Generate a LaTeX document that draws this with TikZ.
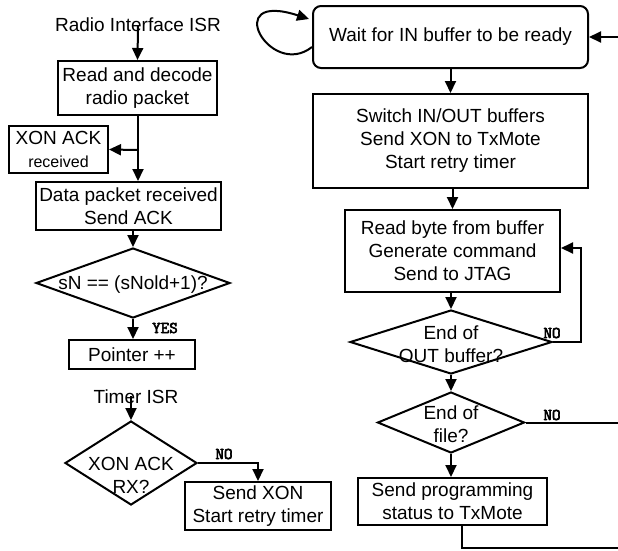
\documentclass[tikz,border=0pt]{standalone}
\usepackage{fontspec}
\setmainfont{Liberation Sans}
\newfontfamily\codefont{Latin Modern Mono}[AutoFakeBold=3.5]
\usetikzlibrary{arrows.meta,shapes.geometric}

\tikzset{
  box/.style={draw,line width=2pt,align=center,inner sep=0pt},
  rbox/.style={box,rounded corners=8pt},
  dec/.style={draw,diamond,line width=2pt,inner sep=0pt},
  txt/.style={align=center,inner sep=0pt},
  lbl/.style={font=\codefont\bfseries\fontsize{16.5}{16.5}\selectfont,inner sep=0pt},
  arr/.style={line width=2pt,-{Triangle[length=12pt,width=11pt]}},
  wire/.style={line width=2pt}
}

\begin{document}
\begin{tikzpicture}[x=1pt,y=-1pt,font=\fontsize{19}{23}\selectfont]
\useasboundingbox (0,0) rectangle (618,550);

\node[txt] (rad) at (138,25) {Radio Interface ISR};
\node[box,minimum width=159,minimum height=54] (rdp) at (137.5,88) {Read and decode\\radio packet};
\node[box,minimum width=99,minimum height=47] (ackbox) at (58.5,149.5) {XON ACK\\{\fontsize{16}{20}\selectfont received}};
\node[box,minimum width=185,minimum height=48] (dpr) at (128.5,206) {Data packet received\\Send ACK};
\node[dec,minimum width=194,minimum height=70] (seq) at (133,283) {};
\node[txt] (seqt) at (133,285) {sN == (sNold+1)?};
\node[box,minimum width=126,minimum height=29] (ptr) at (132,354.5) {Pointer ++};
\node[lbl] (yes) at (165,328) {YES};

\node[txt] (tmr) at (136,397) {Timer ISR};
\node[dec,minimum width=132,minimum height=84] (xack) at (131,463) {};
\node[txt] (xackt) at (131,475) {XON ACK\\RX?};
\node[box,minimum width=146,minimum height=48] (sxon) at (258,506) {Send XON\\Start retry timer};
\node[lbl] (no1) at (224,454) {NO};

\node[rbox,minimum width=275,minimum height=62] (wait) at (450.5,37) {Wait for IN buffer to be ready};
\node[box,minimum width=275,minimum height=94] (swb) at (450.5,141) {Switch IN/OUT buffers\\Send XON to TxMote\\Start retry timer};
\node[box,minimum width=215,minimum height=82] (rbf) at (452.5,251) {Read byte from buffer\\Generate command\\Send to JTAG};
\node[dec,minimum width=202,minimum height=64] (eob) at (451,342) {};
\node[txt] (eobt) at (451,344) {End of\\OUT buffer?};
\node[lbl] (no2) at (552,333) {NO};
\node[dec,minimum width=147,minimum height=61] (eof) at (451,422.5) {};
\node[txt] (eoft) at (451,424.5) {End of\\file?};
\node[lbl] (no3) at (552,415) {NO};
\node[box,minimum width=189,minimum height=47] (spst) at (452.5,501.5) {Send programming\\status to TxMote};

\coordinate (br) at (138,150);
\coordinate (retx) at (618,37);
\coordinate (eofx) at (618,422.5);
\coordinate (spx) at (618,548);

\draw[arr] (rad.south) ++(0,-6) -- (rdp.north);
\draw[arr] (rdp.south -| br) -- (dpr.north -| br);
\draw[arr] (br) -- (ackbox.east);
\draw[arr] (dpr.south -| seq.north) -- (seq.north);
\draw[arr] (seq.south) -- (ptr.north -| seq.south);
\draw[arr] (tmr.south -| xack.north) ++(0,-8) -- (xack.north);
\draw[arr] (xack.east) -| (sxon.north);

\draw[arr] (retx) -- (wait.east);
\draw[arr] (wait.west |- 0,47) .. controls (270,80) and (220,-10) .. (309,19);
\draw[arr] (wait.south -| swb.north) -- (swb.north);
\draw[arr] (swb.south -| rbf.north) -- (rbf.north);
\draw[arr] (rbf.south -| eob.north) -- (eob.north);
\draw[arr] (eob.east) -- ++(28,0) |- ([yshift=3pt]rbf.east);
\draw[arr] (eob.south) -- (eof.north);
\draw[wire] (eof.east) -- (eofx);
\draw[arr] (eof.south) -- (spst.north -| eof.south);
\draw[wire] ([xshift=9.5pt]spst.south) |- (spx);
\end{tikzpicture}
\end{document}
